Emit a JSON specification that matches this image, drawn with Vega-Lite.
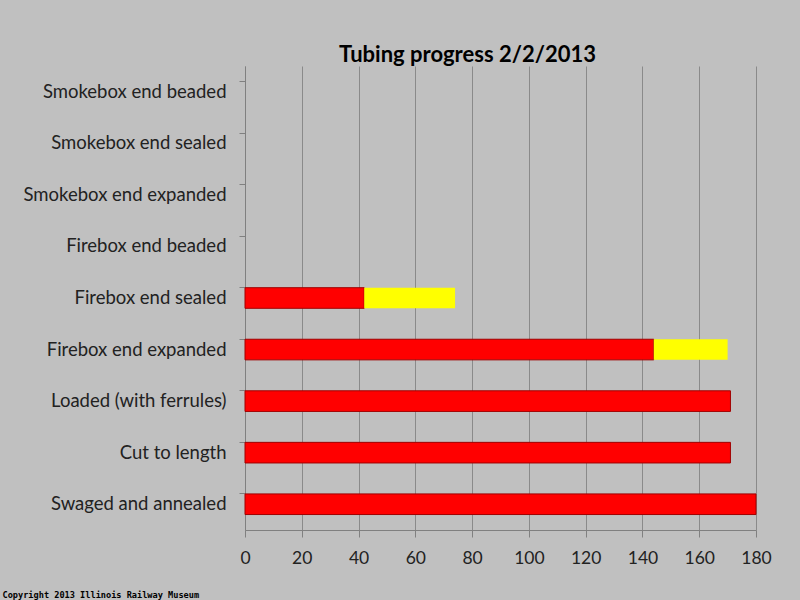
{
  "$schema": "https://vega.github.io/schema/vega-lite/v6.json",
  "autosize": {"type": "none"},
  "width": 511,
  "height": 464,
  "padding": {"left": 245, "top": 66, "right": 44, "bottom": 70},
  "background": "#c0c0c0",
  "title": {
    "text": "Tubing progress 2/2/2013",
    "font": "Lato",
    "fontSize": 22,
    "fontWeight": "bold",
    "color": "#000000",
    "anchor": "middle",
    "dx": -33,
    "offset": -1
  },
  "data": {
    "values": [
      {"category": "Swaged and annealed", "part": "done", "value": 180},
      {"category": "Cut to length", "part": "done", "value": 171},
      {"category": "Loaded (with ferrules)", "part": "done", "value": 171},
      {"category": "Firebox end expanded", "part": "done", "value": 144},
      {"category": "Firebox end expanded", "part": "partial", "value": 26},
      {"category": "Firebox end sealed", "part": "done", "value": 42},
      {"category": "Firebox end sealed", "part": "partial", "value": 32}
    ]
  },
  "mark": {"type": "bar"},
  "encoding": {
    "y": {
      "field": "category",
      "type": "nominal",
      "scale": {
        "domain": ["Smokebox end beaded", "Smokebox end sealed", "Smokebox end expanded", "Firebox end beaded", "Firebox end sealed", "Firebox end expanded", "Loaded (with ferrules)", "Cut to length", "Swaged and annealed"],
        "paddingInner": 0.6,
        "paddingOuter": 0.3
      },
      "axis": {
        "title": null,
        "bandPosition": 0,
        "domainColor": "#808080",
        "tickColor": "#808080",
        "tickSize": 6,
        "labelFont": "Lato",
        "labelFontSize": 18.5,
        "labelColor": "#222222",
        "labelPadding": 13,
        "labelLimit": 300,
        "grid": false
      }
    },
    "x": {
      "field": "value",
      "type": "quantitative",
      "stack": "zero",
      "scale": {"domain": [0, 180], "nice": false},
      "axis": {
        "values": [0, 20, 40, 60, 80, 100, 120, 140, 160, 180],
        "title": "Copyright 2013 Illinois Railway Museum",
        "titleFont": "DejaVu Sans Mono",
        "titleFontSize": 8.6,
        "titleFontWeight": "bold",
        "titleColor": "#000000",
        "titleAlign": "left",
        "titleAnchor": "start",
        "titleBaseline": "middle",
        "titleX": -243,
        "titleY": 64,
        "domainColor": "#808080",
        "tickColor": "#808080",
        "tickSize": 7,
        "grid": true,
        "gridColor": "#8a8a8a",
        "gridWidth": 1,
        "labelFont": "Lato",
        "labelFontSize": 17.5,
        "labelColor": "#222222",
        "labelPadding": 12,
        "labelFlush": false
      }
    },
    "color": {
      "field": "part",
      "type": "nominal",
      "scale": {"domain": ["done", "partial"], "range": ["#ff0000", "#ffff00"]},
      "legend": null
    },
    "stroke": {
      "condition": {"test": "datum.part === 'done'", "value": "#a00000"},
      "value": null
    },
    "order": {"field": "part", "type": "nominal"}
  },
  "config": {
    "view": {"stroke": null}
  }
}
